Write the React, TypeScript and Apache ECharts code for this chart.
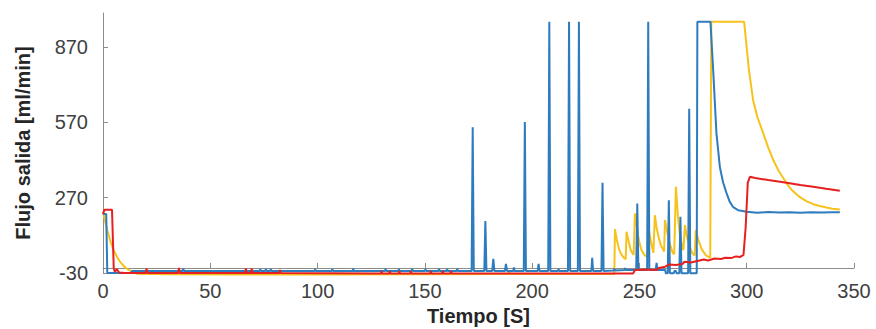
import React, { useEffect, useRef } from "react";
import * as echarts from "echarts";

const xTicks = { min: 0, max: 350, interval: 50 };
const yTicks = { min: -30, max: 1005, interval: 300 };

const blue: [number, number][] = [
  [0, 205], [1.5, 205], [2, -30], [13, -30], [13.5, -22], [37, -22], [37.4, -14], [37.8, -22],
  [73, -22], [73.3, -14], [73.6, -22], [75.6, -22], [75.9, -14], [76.2, -22], [77.9, -22], [78.2, -14], [78.5, -22],
  [98.6, -22], [98.9, -14], [99.2, -22], [106.6, -22], [106.9, -14], [107.2, -22], [116.3, -22], [116.6, -12], [116.9, -22],
  [131.4, -22], [131.7, -13], [132, -22], [137.6, -22], [137.9, -14], [138.2, -22], [143.8, -22], [144.1, -13], [144.4, -22],
  [150, -22], [150.3, -14], [150.6, -22], [156.3, -22], [156.6, -13], [156.9, -22], [160.1, -22], [160.4, -14], [160.7, -22],
  [164.8, -22], [165.1, -13], [165.4, -22], [171.8, -22], [172.3, 550], [172.8, -22], [177.7, -22], [178.2, 177], [178.7, -22],
  [181.4, -22], [181.9, 26], [182.4, -22], [187.3, -22], [187.8, 6], [188.3, -22], [191.2, -22], [191.5, -8], [191.8, -22],
  [196.1, -22], [196.6, 571], [197.1, -22], [202.6, -22], [203, 6], [203.4, -22], [207.5, -22], [208, 970], [208.5, -22],
  [212, -22], [212.3, -14], [212.6, -22], [216.7, -22], [217.2, 970], [217.7, -22], [221.3, -22], [221.8, 970], [222.3, -22],
  [227.6, -22], [228, 30], [228.4, -22], [232.3, -22], [232.8, 329], [233.3, -22], [238, -20], [238.3, -12], [238.6, -20],
  [243, -18], [243.3, -10], [243.6, -18], [248.5, -18], [249, 247], [249.5, -18], [253.6, -18], [254.1, 970], [254.6, -18],
  [257.6, -18], [258, 10], [258.4, -18], [262, -18], [262.3, -31], [263.2, -31], [263.7, 260], [264.2, -31], [266, -31],
  [266.3, -22], [267, -22], [267.3, -31], [268.6, -31], [269.1, 194], [269.6, -31], [272.7, -31], [273.2, 624], [273.7, -31],
  [276.7, -31], [277, 970], [283.1, 970], [284.3, 789], [285.9, 526], [287.5, 391], [289, 330], [290.6, 288], [292, 255],
  [293.7, 232], [296, 220], [300, 214], [305, 210], [310, 213], [315, 211], [320, 212], [325, 210], [330, 212], [335, 211],
  [340, 212], [343.4, 212],
];

const yellow: [number, number][] = [
  [0, 215], [1, 175], [2, 140], [3.3, 100], [5, 60], [6.5, 35], [8, 14], [10, -5], [12, -18], [14, -27], [16, -33],
  [30, -35], [60, -36], [100, -36], [150, -35], [189, -34], [189.3, -26], [189.6, -34], [200, -34], [238.3, -34],
  [238.6, 144], [239.5, 100], [240.5, 65], [241.5, 45], [242.8, 30], [243.6, 25], [244, 134], [245, 95], [246, 60],
  [247.3, 42], [247.9, 207], [249, 140], [250, 90], [251, 60], [252.5, 40], [253.7, 35], [254.1, 154], [255, 110],
  [256.5, 50], [257.2, 200], [258, 150], [259, 110], [260, 80], [261.5, 55], [261.9, 181], [263, 130], [264, 90],
  [265.5, 50], [266.2, 45], [267, 313], [268, 190], [269, 110], [270.5, 61], [271.2, 161], [272, 120], [273, 85],
  [274.5, 50], [275.7, 40], [276.3, 141], [277.5, 100], [279, 65], [281, 40], [283, 30], [283.5, 970], [298.8, 970],
  [301, 780], [303, 657], [305, 590], [307.7, 526], [310, 470], [312.4, 419], [315, 375], [318.6, 327], [321, 300],
  [324.8, 272], [328, 255], [331, 244], [334, 237], [337.2, 231], [340, 226], [343.4, 223],
];

const red: [number, number][] = [
  [0, 205], [0.7, 222], [4.2, 222], [5, -10], [5.5, -25], [6.5, -15], [7.5, -28], [10, -30], [20, -30], [20.3, -12],
  [20.7, -30], [35, -30], [35.4, -10], [35.8, -30], [66.3, -30], [66.6, -12], [66.9, -30], [69, -30], [69.3, -12],
  [69.6, -30], [82.2, -30], [82.5, -18], [82.8, -30], [129.5, -32], [129.8, -22], [130.1, -32], [133.4, -32], [133.7, -22],
  [134, -32], [137.8, -32], [138.1, -22], [138.4, -32], [143.2, -32], [143.5, -22], [143.8, -32], [152.5, -32], [152.8, -22],
  [153.1, -32], [158, -32], [158.3, -22], [158.6, -32], [161.9, -32], [162.2, -22], [162.5, -32], [247, -32], [248, -18],
  [253, -16], [258, -18], [259, -10], [262, -5], [264, 4], [267, 2], [270, 6], [271, 15], [274, 12], [277, 18], [280, 24],
  [282, 20], [285, 28], [288, 26], [290, 31], [293, 30], [295, 36], [297, 34], [298.5, 42], [299.5, 150], [300.5, 330],
  [301.5, 353], [304, 348], [310, 340], [315.5, 333], [320, 327], [325, 320], [331, 313], [337, 305], [343.4, 297],
];

const BLUE = "#2e7bbd";
const YELLOW = "#f7c21c";
const RED = "#e62020";
const FONT = "Liberation Sans, Arial, sans-serif";

export default function App() {
  const ref = useRef<HTMLDivElement>(null);
  useEffect(() => {
    document.body.style.margin = "0";
    const chart = echarts.init(ref.current!, null, { renderer: "svg" });
    const labelStyle = { fontFamily: FONT, fontSize: 20, color: "#404040" };
    const mk = (data: [number, number][], color: string) => ({
      type: "line",
      data,
      showSymbol: false,
      clip: false,
      lineStyle: { color, width: 2 },
      itemStyle: { color },
      xAxisIndex: 0,
      yAxisIndex: 0,
    });
    chart.setOption({
      animation: false,
      grid: { left: 103, right: 22, top: 13, bottom: 56, containLabel: false, outerBoundsMode: "none" },
      xAxis: [
        {
          type: "value",
          position: "bottom",
          min: xTicks.min,
          max: xTicks.max,
          interval: xTicks.interval,
          axisLine: { show: false },
          axisTick: { show: false },
          splitLine: { show: false },
          axisLabel: { ...labelStyle, margin: 8 },
          name: "Tiempo [S]",
          nameLocation: "middle",
          nameGap: 33,
          nameTextStyle: { fontFamily: FONT, fontSize: 20, fontWeight: "bold", color: "#262626" },
        },
        {
          type: "value",
          position: "bottom",
          offset: -5,
          min: xTicks.min,
          max: xTicks.max,
          interval: xTicks.interval,
          axisLine: { show: true, onZero: false, lineStyle: { color: "#8c8c8c", width: 1 } },
          axisTick: { show: true, inside: true, length: 5, lineStyle: { color: "#8c8c8c" } },
          splitLine: { show: false },
          axisLabel: { show: false },
        },
      ],
      yAxis: {
        type: "value",
        min: yTicks.min,
        max: yTicks.max,
        interval: yTicks.interval,
        axisLine: { show: true, lineStyle: { color: "#8c8c8c", width: 1 } },
        axisTick: { show: true, inside: true, length: 5, lineStyle: { color: "#8c8c8c" } },
        splitLine: { show: false },
        axisLabel: { ...labelStyle, margin: 15, showMaxLabel: false },
        name: "Flujo salida [ml/min]",
        nameLocation: "middle",
        nameRotate: 90,
        nameGap: 70,
        nameTextStyle: { fontFamily: FONT, fontSize: 20, fontWeight: "bold", color: "#262626" },
      },
      series: [mk(yellow, YELLOW), mk(blue, BLUE), mk(red, RED)],
    });
    return () => chart.dispose();
  }, []);
  return <div ref={ref} style={{ width: 876, height: 329 }} />;
}
